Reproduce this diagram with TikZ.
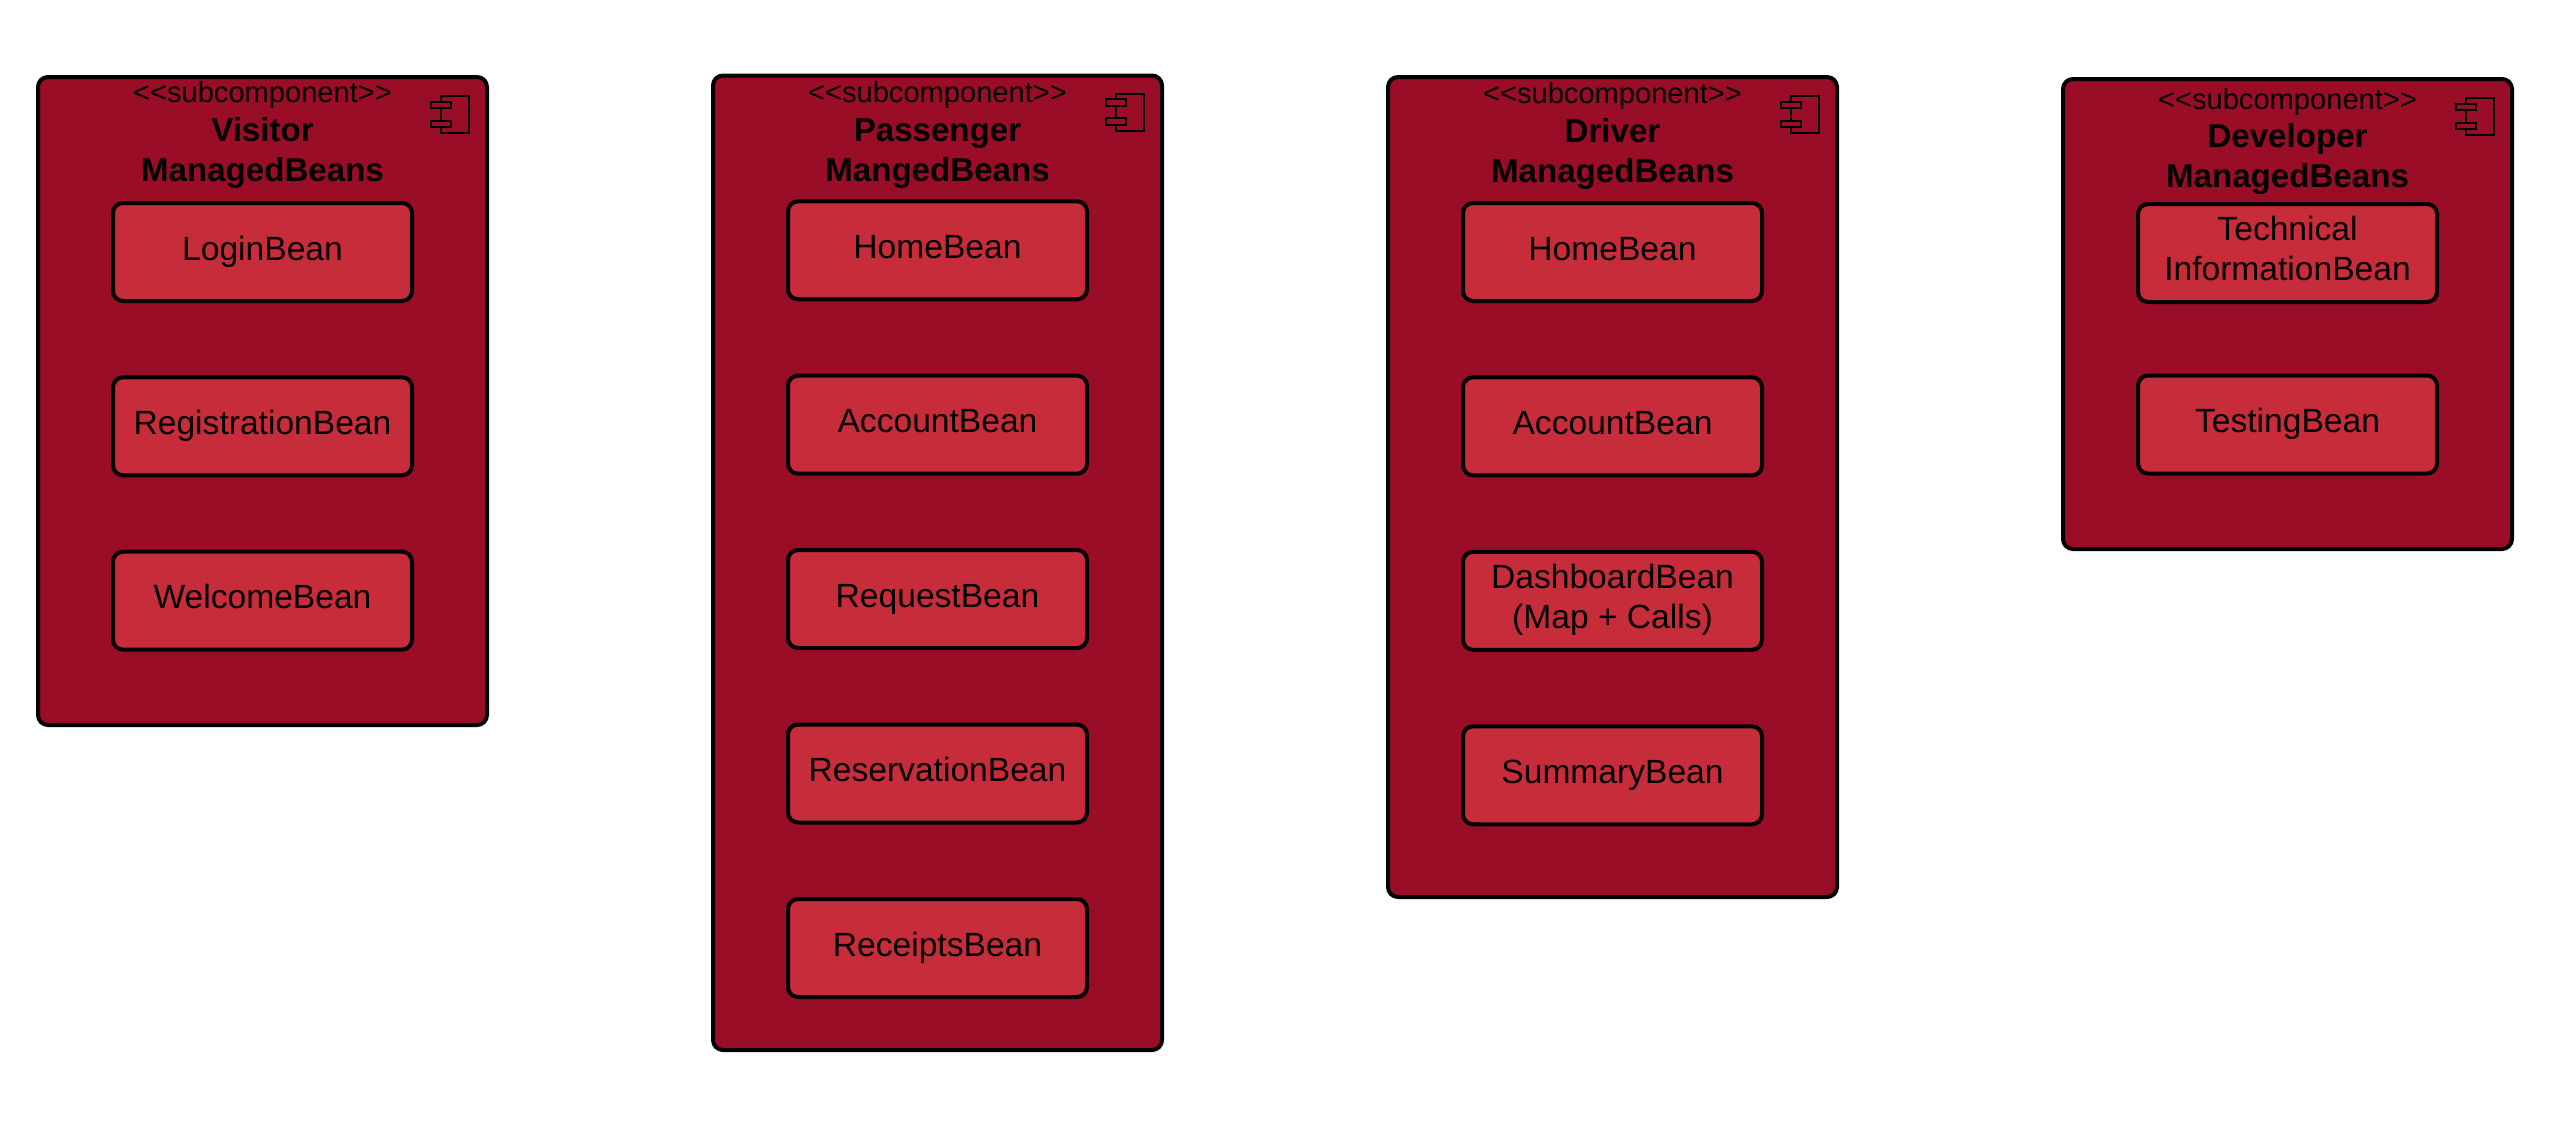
\documentclass[tikz,border=0pt]{standalone}
\usepackage{fontspec}
\setmainfont{Liberation Sans}
\newcommand\bst{\rule[-8.5pt]{0pt}{33pt}}
\newcommand\bsq{\rule[-9.5pt]{0pt}{33pt}}
\newcommand\tst{\rule[-9pt]{0pt}{34pt}}
\newcommand\subc{{<}{<}subcomponent{>}{>}}
\definecolor{compred}{HTML}{990D27}
\definecolor{beanred}{HTML}{C72C3A}
\tikzset{
  compbox/.style={draw=black,fill=compred,line width=4pt,rounded corners=10pt,minimum width=449pt,inner sep=0pt,outer sep=0pt},
  beanbox/.style={draw=black,fill=beanred,line width=4pt,rounded corners=10pt,minimum width=299pt,minimum height=98pt,inner sep=0pt,outer sep=0pt,align=center,font=\fontsize{33.6}{40}\selectfont},
  titletext/.style={anchor=north,inner sep=0pt,outer sep=0pt,align=center,font=\fontsize{33.1}{40}\selectfont},
  iconmain/.style={draw=black,line width=2pt,minimum width=28pt,minimum height=37pt,inner sep=0pt,outer sep=0pt},
  iconport/.style={draw=black,fill=compred,line width=2pt,minimum width=20pt,minimum height=6.5pt,inner sep=0pt,outer sep=0pt},
}
\newcommand\titleblock[3]{{\fontsize{29.1}{40}\selectfont\tst\subc}\\[#1]\bfseries\bst #2\\\bfseries\bst #3}
\begin{document}
\begin{tikzpicture}[x=1pt,y=-1pt]
\useasboundingbox (0,0) rectangle (2550,1125);
% Visitor
\node[compbox,minimum height=648pt] (c1) at (262.5,401) {};
\node[titletext] (t1) at (262.5,77) {\titleblock{-1pt}{Visitor}{ManagedBeans}};
\node[iconmain] (i1) at (455,114.5) {};
\node[iconport] (p1a) at (441,105) {};
\node[iconport] (p1b) at (441,124) {};
\node[beanbox] (b11) at (262.5,252) {\bst LoginBean};
\node[beanbox] (b12) at (262.5,426.3) {\bst RegistrationBean};
\node[beanbox] (b13) at (262.5,600.7) {\bst WelcomeBean};
% Passenger
\node[compbox,minimum height=974.5pt] (c2) at (937.5,562.75) {};
\node[titletext] (t2) at (937.5,77) {\titleblock{-1pt}{Passenger}{MangedBeans}};
\node[iconmain] (i2) at (1130.3,112.2) {};
\node[iconport] (p2a) at (1116,102.7) {};
\node[iconport] (p2b) at (1116,121.7) {};
\node[beanbox] (b21) at (937.5,250.3) {\bst HomeBean};
\node[beanbox] (b22) at (937.5,424.7) {\bst AccountBean};
\node[beanbox] (b23) at (937.5,599) {\bst RequestBean};
\node[beanbox] (b24) at (937.5,773.5) {\bst ReservationBean};
\node[beanbox] (b25) at (937.5,948) {\bst ReceiptsBean};
% Driver
\node[compbox,minimum height=820pt] (c3) at (1612.5,487) {};
\node[titletext] (t3) at (1612.5,78) {\titleblock{-1pt}{Driver}{ManagedBeans}};
\node[iconmain] (i3) at (1805,114.5) {};
\node[iconport] (p3a) at (1791,105) {};
\node[iconport] (p3b) at (1791,124) {};
\node[beanbox] (b31) at (1612.5,252) {\bst HomeBean};
\node[beanbox] (b32) at (1612.5,426.3) {\bst AccountBean};
\node[beanbox] (b33) at (1612.5,600.8) {\bsq DashboardBean\\\bsq (Map + Calls)};
\node[beanbox] (b34) at (1612.5,775.3) {\bst SummaryBean};
% Developer
\node[compbox,minimum height=470pt] (c4) at (2287.5,314) {};
\node[titletext] (t4) at (2287.5,84) {\titleblock{-2pt}{Developer}{ManagedBeans}};
\node[iconmain] (i4) at (2480,116.5) {};
\node[iconport] (p4a) at (2466,107) {};
\node[iconport] (p4b) at (2466,126) {};
\node[beanbox] (b41) at (2287.5,253) {\bsq Technical\\\bsq InformationBean};
\node[beanbox] (b42) at (2287.5,424.5) {\bst TestingBean};
\end{tikzpicture}
\end{document}
